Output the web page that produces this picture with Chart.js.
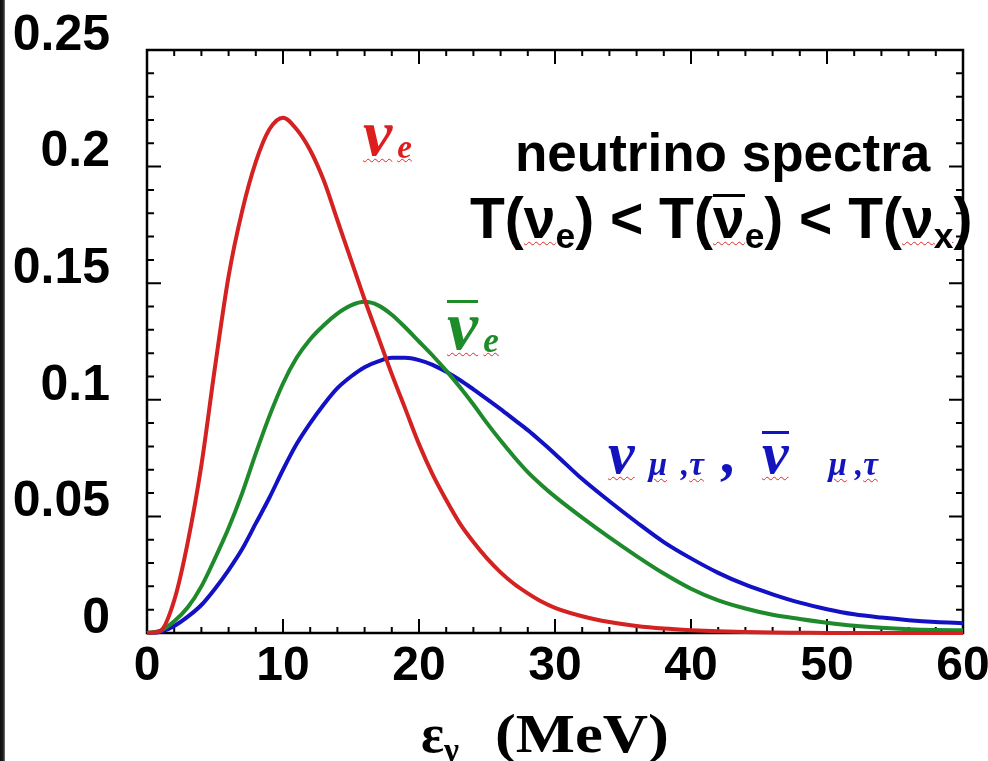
<!DOCTYPE html>
<html>
<head>
<meta charset="utf-8">
<script src="https://cdn.jsdelivr.net/npm/chart.js@4.4.1/dist/chart.umd.min.js"></script>
<style>
  html, body { margin: 0; padding: 0; background: #fff; }
  #wrap { position: relative; width: 988px; height: 761px; overflow: hidden; background: #fff; }
  #wrap canvas { position: absolute; left: 0; top: 0; }
  #edge { position: absolute; left: 0; top: 0; width: 5px; height: 761px; background: linear-gradient(to right, #0e0e0e 0, #1c1c1c 3px, #777 5px); }
  .lbl { position: absolute; white-space: nowrap; line-height: 1; }
  .sans { font-family: "Liberation Sans", Arial, sans-serif; font-weight: bold; color: #000; }
  .sym { font-family: "Liberation Serif", "Times New Roman", serif; font-style: italic; font-weight: bold; }
  .serifb { font-family: "Liberation Serif", "Times New Roman", serif; font-weight: bold; color: #000; }
  .sq { text-decoration: underline wavy #e02828; text-decoration-thickness: 1px; text-underline-offset: 3px; }
  .sb { font-size: 0.5em; position: relative; top: 0.08em; margin-left: 0.15em; }
  .sbb { font-size: 0.55em; position: relative; top: 0.06em; }
  .sb2 { font-size: 0.62em; position: relative; top: 0.28em; }
  .ovb { display: inline-block; border-top: 3px solid currentColor; }
  .wide { display: inline-block; transform: scaleX(1.16); transform-origin: 0 0; }
</style>
</head>
<body>
<div id="wrap">
  <canvas id="spectra" width="988" height="761"></canvas>
  <div id="edge"></div>

  <div class="lbl sym" style="left:363px;top:100px;font-size:66px;color:#dc1e1e"><span class="sq">ν<span class="sb">e</span></span></div>

  <div class="lbl sans" style="left:515px;top:126px;font-size:53px">neutrino spectra</div>
  <div class="lbl sans" style="left:470px;top:190px;font-size:57px">T(<span class="sq">ν<span class="sb2">e</span></span>) &lt; T(<span class="ovb" style="line-height:0.75em"><span class="sq">ν</span></span><span class="sq"><span class="sb2">e</span></span>) &lt; T(<span class="sq">ν<span class="sb2">x</span></span>)</div>

  <div class="lbl sym" style="left:447px;top:291px;font-size:70px;color:#1e8c28"><span class="ovb" style="line-height:0.665em"><span class="sq">ν</span></span><span class="sq"><span class="sb">e</span></span></div>

  <div class="lbl sym" style="left:608px;top:423px;font-size:60px;color:#1414be"><span class="sq">ν</span><span class="sbb" style="margin-left:14px"><span class="sq">μ</span><span style="margin-left:14px">,</span><span class="sq">τ</span></span><span style="margin-left:18px">,</span><span class="ovb" style="line-height:0.665em;margin-left:25px"><span class="sq">ν</span></span><span class="sbb" style="margin-left:40px"><span class="sq">μ</span><span style="margin-left:8px">,</span><span class="sq">τ</span></span></div>

  <div class="lbl serifb" style="left:421px;top:707px;font-size:54px">ε<span class="sb2">ν</span><span class="wide" style="margin-left:36px">(MeV)</span></div>
</div>

<script>
// DADOS (energia em MeV)
const energies = [0, 1, 2, 3, 4, 5, 6, 7, 8, 9, 10, 11, 12, 13, 14, 15, 16, 17, 18, 19, 20,
    21, 22, 23, 24, 25, 26, 27, 28, 29, 30, 32, 34, 36, 38, 40, 42, 44, 46, 48, 50, 52, 54, 56, 58, 60];

// nu_e (vermelho)
const nuE = [0, 0.001, 0.014, 0.039, 0.072, 0.114, 0.153, 0.181, 0.202, 0.216, 0.221,
    0.216, 0.207, 0.194, 0.177, 0.160, 0.143, 0.127, 0.111, 0.096, 0.081,
    0.068, 0.057, 0.047, 0.039, 0.032, 0.026, 0.021, 0.017, 0.0135, 0.0108,
    0.0072, 0.0047, 0.003, 0.0019, 0.0012, 0.0007, 0.0004, 0.0002, 0.0001, 0, 0, 0, 0, 0, 0];

// anti nu_e (verde)
const nuEBar = [0, 0.001, 0.005, 0.011, 0.020, 0.032, 0.045, 0.060, 0.077, 0.093, 0.107,
    0.118, 0.126, 0.132, 0.137, 0.1405, 0.142, 0.1405, 0.1365, 0.131, 0.125,
    0.119, 0.1125, 0.1055, 0.098, 0.090, 0.0825, 0.0755, 0.069, 0.0635, 0.0585,
    0.0495, 0.041, 0.033, 0.0255, 0.019, 0.014, 0.0105, 0.0078, 0.006, 0.0044, 0.0031, 0.0022, 0.0016, 0.0013, 0.0012];

// nu_mu,tau (azul)
const nuX = [0, 0.0005, 0.003, 0.007, 0.012, 0.019, 0.027, 0.036, 0.047, 0.058, 0.070,
    0.081, 0.090, 0.098, 0.105, 0.110, 0.114, 0.1165, 0.118, 0.118, 0.117,
    0.115, 0.112, 0.1085, 0.1045, 0.1003, 0.096, 0.0915, 0.087, 0.082, 0.0768,
    0.066, 0.0565, 0.0475, 0.039, 0.032, 0.0258, 0.0207, 0.0166, 0.013, 0.0102, 0.008, 0.0066, 0.0055, 0.0047, 0.0042];

const xTickLabels = ["0", "10", "20", "30", "40", "50", "60"];
const yTickLabels = ["0", "0.05", "0.1", "0.15", "0.2", "0.25"];

function toPoints(values) {
    return energies.map((e, i) => ({ x: e, y: values[i] }));
}

// MOLDURA + TICKS PARA DENTRO
const frameTicks = {
    id: "frameTicks",
    beforeDatasetsDraw(chart) {
        const { ctx, chartArea: a, scales: { x, y } } = chart;
        ctx.save();
        ctx.strokeStyle = "#000";
        ctx.lineWidth = 2.5;
        ctx.strokeRect(a.left, a.top, a.right - a.left, a.bottom - a.top);

        ctx.lineWidth = 2;
        ctx.beginPath();
        for (let v = 0; v <= 60; v += 2) {
            const px = x.getPixelForValue(v);
            const len = v % 10 === 0 ? 14 : 6;
            ctx.moveTo(px, a.bottom); ctx.lineTo(px, a.bottom - len);
            ctx.moveTo(px, a.top); ctx.lineTo(px, a.top + len);
        }
        for (let i = 0; i <= 25; i++) {
            const py = y.getPixelForValue(i / 100);
            const len = i % 5 === 0 ? 14 : 7;
            ctx.moveTo(a.left, py); ctx.lineTo(a.left + len, py);
            ctx.moveTo(a.right, py); ctx.lineTo(a.right - len, py);
        }
        ctx.stroke();
        ctx.restore();
    }
};

const fontFamily = "'Liberation Sans', Arial, sans-serif";

new Chart(document.getElementById("spectra"), {
    type: "line",
    data: {
        datasets: [
            { label: "nu_e", data: toPoints(nuE), borderColor: "#d42222" },
            { label: "anti nu_e", data: toPoints(nuEBar), borderColor: "#1f8a2c" },
            { label: "nu_x", data: toPoints(nuX), borderColor: "#1212c4" }
        ]
    },
    options: {
        responsive: false,
        animation: false,
        events: [],
        layout: { padding: { top: 50, right: 25, left: 0, bottom: 0 } },
        plugins: { legend: { display: false }, tooltip: { enabled: false } },
        elements: {
            point: { radius: 0 },
            line: { borderWidth: 4, cubicInterpolationMode: "monotone" }
        },
        datasets: { line: { clip: 4 } },
        scales: {
            x: {
                type: "linear", min: 0, max: 60,
                grid: { display: false, drawTicks: false },
                border: { display: false },
                ticks: {
                    stepSize: 10, color: "#000", padding: 5,
                    font: { family: fontFamily, size: 48, weight: "bold" },
                    maxRotation: 0, autoSkip: false,
                    callback: (v, i) => xTickLabels[i]
                },
                afterFit(s) { s.height = 128; s.paddingLeft = 0; s.paddingRight = 0; }
            },
            y: {
                min: 0, max: 0.25,
                grid: { display: false, drawTicks: false },
                border: { display: false },
                ticks: {
                    stepSize: 0.05, color: "#000", padding: 37,
                    font: { family: fontFamily, size: 50, weight: "bold" },
                    labelOffset: -14,
                    callback: (v, i) => yTickLabels[i]
                },
                afterFit(s) { s.width = 147; s.paddingTop = 0; s.paddingBottom = 0; }
            }
        }
    },
    plugins: [frameTicks]
});
</script>
</body>
</html>
